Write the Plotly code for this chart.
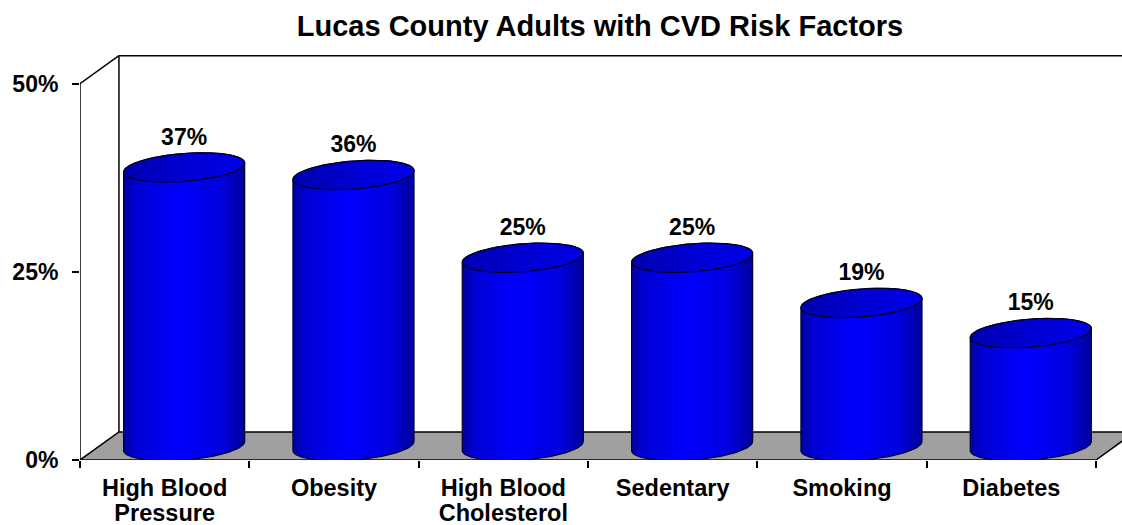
import numpy as np
import plotly.graph_objects as go

# ---- data ----
categories = ["High Blood<br>Pressure", "Obesity", "High Blood<br>Cholesterol",
              "Sedentary", "Smoking", "Diabetes"]
values = [37, 36, 25, 25, 19, 15]
value_labels = ["37%", "36%", "25%", "25%", "19%", "15%"]
y_tickvals = [0, 25, 50]
y_ticktext = ["0%", "25%", "50%"]
title_text = "Lucas County Adults with CVD Risk Factors"

# ---- 3D look parameters (axis units) ----
DX = 0.23      # depth offset in category units
DY = 3.72      # depth offset in percent units
CYL_W = 0.715  # cylinder width (category units)
ELL_B = 1.86   # ellipse half height (percent units)
ELL_S = 0.60   # ellipse tilt (percent units)
LABEL_OFF = 3.8
YMAX_AX = 50
n = len(categories)

FONT = "Liberation Sans, Arial, sans-serif"

fig = go.Figure()

body_scale = [[0.0, "#0000a0"], [0.1, "#0000d4"], [0.45, "#0000ff"],
              [0.8, "#0000e0"], [1.0, "#00009c"]]
top_scale = [[0.0, "#0000b0"], [0.6, "#0000d8"], [1.0, "#0000e8"]]

base = DY / 2
a = CYL_W / 2
for i, v in enumerate(values):
    cx = i + 0.5 + DX / 2
    top = base + v
    t_up = np.linspace(np.pi, 0, 60)
    t_dn = np.linspace(0, -np.pi, 60)
    xs = list(cx + a * np.cos(t_up)) + list(cx + a * np.cos(t_dn))
    ys = list(top + ELL_B * np.sin(t_up) + ELL_S * np.cos(t_up)) + \
         list(base + ELL_B * np.sin(t_dn) + ELL_S * np.cos(t_dn))
    xs.append(xs[0]); ys.append(ys[0])
    fig.add_trace(go.Scatter(
        x=xs, y=ys, mode="lines", fill="toself",
        fillgradient=dict(type="horizontal", colorscale=body_scale),
        line=dict(color="#000033", width=1.2),
        hoverinfo="skip", showlegend=False))
    t = np.linspace(0, 2 * np.pi, 120)
    fig.add_trace(go.Scatter(
        x=cx + a * np.cos(t),
        y=top + ELL_B * np.sin(t) + ELL_S * np.cos(t),
        mode="lines", fill="toself",
        fillgradient=dict(type="horizontal", colorscale=top_scale),
        line=dict(color="#000022", width=1.3),
        hoverinfo="skip", showlegend=False))

# value labels
fig.add_trace(go.Scatter(
    x=[i + 0.5 + DX / 2 for i in range(n)],
    y=[base + v + LABEL_OFF for v in values],
    mode="text", text=value_labels,
    textfont=dict(family=FONT, size=23, color="black", weight="bold"),
    hoverinfo="skip", showlegend=False, cliponaxis=False))

# invisible trace on second x axis so it is drawn
fig.add_trace(go.Scatter(x=[0.5], y=[0], xaxis="x2", yaxis="y", mode="markers",
                         marker=dict(opacity=0), hoverinfo="skip", showlegend=False))

line1 = [c.split("<br>")[0] for c in categories]
line2 = [c.split("<br>")[1] if "<br>" in c else "" for c in categories]

shapes = []
shapes.append(dict(type="path", xref="x", yref="y", layer="below",
                   path=f"M 0 0 L {n} 0 L {n+DX} {DY} L {0+DX} {DY} Z",
                   fillcolor="#a0a0a0", line=dict(color="black", width=1.5)))
shapes.append(dict(type="line", xref="x", yref="y", x0=0, y0=0, x1=0, y1=YMAX_AX,
                   line=dict(color="black", width=1.5)))
shapes.append(dict(type="line", xref="x", yref="y", x0=0, y0=YMAX_AX, x1=DX, y1=YMAX_AX + DY,
                   line=dict(color="black", width=1.5)))
shapes.append(dict(type="line", xref="x", yref="y", x0=DX, y0=DY, x1=DX, y1=YMAX_AX + DY,
                   line=dict(color="black", width=1.5)))
shapes.append(dict(type="line", xref="x", yref="y", x0=DX, y0=YMAX_AX + DY, x1=n + DX, y1=YMAX_AX + DY,
                   line=dict(color="black", width=1.5)))

XR = [0, 1042 / 169.33]
cat_font = dict(family=FONT, size=23.5, color="black", weight="bold")

fig.update_layout(
    width=1122, height=525,
    margin=dict(l=80, r=0, t=46, b=65),
    paper_bgcolor="white", plot_bgcolor="white",
    shapes=shapes,
    title=dict(text=title_text, x=600 / 1122, xanchor="center", xref="container",
               y=1 - 26 / 525, yanchor="middle", yref="container",
               font=dict(family=FONT, size=29, color="black", weight="bold")),
    xaxis=dict(range=XR, showgrid=False, zeroline=False, showline=False,
               tickmode="array", tickvals=[i + 0.5 for i in range(n)], ticktext=line1,
               ticks="", ticklabelstandoff=11, tickfont=cat_font,
               minor=dict(tickmode="array", tickvals=list(range(n + 1)), ticks="outside",
                          ticklen=7, tickwidth=1.5, tickcolor="black"),
               fixedrange=True),
    xaxis2=dict(range=XR, overlaying="x", anchor="y", side="bottom",
                showgrid=False, zeroline=False, showline=False,
                tickmode="array", tickvals=[i + 0.5 for i in range(n)], ticktext=line2,
                ticks="", ticklabelstandoff=36, tickfont=cat_font, fixedrange=True),
    yaxis=dict(range=[0, 55], showgrid=False, zeroline=False, showline=False,
               tickmode="array", tickvals=y_tickvals, ticktext=y_ticktext,
               ticks="outside", ticklen=7, tickwidth=1.5, tickcolor="black",
               ticklabelstandoff=9,
               tickfont=dict(family=FONT, size=23, color="black", weight="bold"),
               fixedrange=True),
)

fig.write_html("out.html")
